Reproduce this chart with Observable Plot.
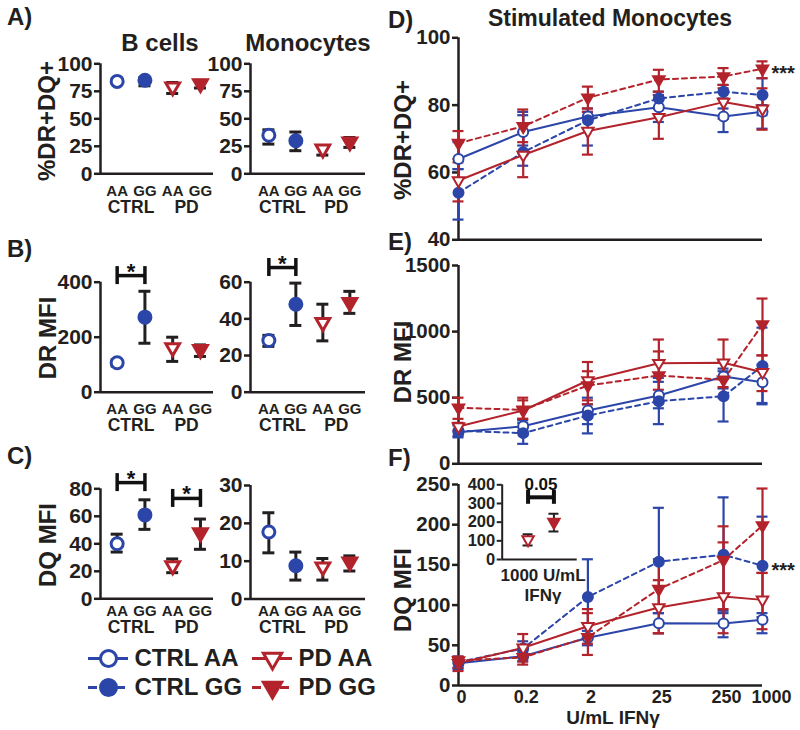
<!DOCTYPE html>
<html><head><meta charset="utf-8">
<script src="https://cdn.jsdelivr.net/npm/d3@7"></script>
<script src="https://cdn.jsdelivr.net/npm/@observablehq/plot@0.6"></script>
<style>
body{margin:0;background:#fff;}
#fig{position:relative;width:800px;height:730px;overflow:hidden;font-family:"Liberation Sans",Arial,sans-serif;font-weight:bold;color:#231f20;background:#fff;}
#fig svg{position:absolute;overflow:visible;}
.t{position:absolute;white-space:nowrap;line-height:1;}
</style></head><body><div id="fig"></div>
<script>
// ---------- data ----------
const series = ["CTRL AA", "CTRL GG", "PD AA", "PD GG"];
const seriesGroup = ["CTRL", "CTRL", "PD", "PD"];
const seriesGeno = ["AA", "GG", "AA", "GG"];

// Panel A (% DR+DQ+)
const aBcellsMean = [84, 85, 79, 82], aBcellsLo = [82, 80, 73, 78], aBcellsHi = [86, 87.5, 83, 85];
const aMonoMean = [35, 30, 22.5, 29], aMonoLo = [27, 21, 17, 24], aMonoHi = [40, 38, 25, 33];
// Panel B (DR MFI)
const bBcellsMean = [107, 273, 162, 155], bBcellsLo = [95, 178, 112, 130], bBcellsHi = [118, 367, 200, 172];
const bMonoMean = [28.2, 48, 38, 49], bMonoLo = [25, 36.4, 28, 43], bMonoHi = [31, 59.5, 48, 55];
// Panel C (DQ MFI)
const cBcellsMean = [40, 61, 24, 48], cBcellsLo = [34, 50.5, 19, 36], cBcellsHi = [47, 72, 29, 58];
const cMonoMean = [17.7, 8.8, 8.5, 9.8], cMonoLo = [12.2, 5, 5, 7.4], cMonoHi = [22.8, 12.4, 10.7, 11.4];

// significance brackets (series index from, to, bracket level, label)
const sigB_Bcells = [{from: 0, to: 1, level: 424, label: "*"}];
const sigB_Mono = [{from: 0, to: 1, level: 68, label: "*"}];
const sigC_Bcells = [{from: 0, to: 1, level: 84.5, label: "*"}, {from: 2, to: 3, level: 73, label: "*"}];

// Stimulated monocytes, IFNγ doses
const doses = [0, 0.2, 2, 25, 250, 1000];
const doseLabels = ["0", "0.2", "2", "25", "250", "1000"];
const zeroDosePosition = 0.02; // where "0" sits on the log axis

// D: %DR+DQ+  (rows: CTRL AA, CTRL GG, PD AA, PD GG)
const dMean = [[64, 72, 76.6, 79.4, 76.6, 78], [54, 66, 75.5, 82, 84, 83], [57.6, 65.2, 72.3, 76.4, 80.9, 78.9], [68.7, 73.7, 82.2, 87.6, 88.5, 90.8]];
const dLo = [[61, 68, 73, 75, 72, 73], [46, 62, 68, 79, 82, 77], [51.4, 58.6, 65.3, 70, 76, 72.7], [64, 69, 78, 84, 86, 88]];
const dHi = [[69, 77, 79, 83, 79, 80], [61, 78, 78, 84, 86, 88], [63, 72, 79, 83, 85, 85], [72.3, 78.7, 85.5, 90.5, 91, 93]];
// E: DR MFI
const eMean = [[239, 284, 403, 517, 660, 617], [250, 232, 365, 474, 511, 740], [282, 403, 630, 761, 764, 693], [424, 408, 592, 668, 635, 1054]];
const eLo = [[200, 250, 300, 420, 570, 450], [210, 151, 230, 300, 320, 460], [250, 340, 480, 560, 580, 550], [340, 340, 450, 500, 500, 820]];
const eHi = [[290, 330, 500, 620, 720, 750], [300, 310, 450, 650, 700, 1030], [310, 480, 770, 940, 940, 820], [500, 500, 700, 850, 780, 1250]];
// F: DQ MFI
const fMean = [[27.7, 36.4, 59.3, 77.5, 77, 81.7], [29, 46, 110, 154, 162.6, 149], [27.7, 46.9, 73.7, 97, 110.7, 106.5], [31, 35, 60, 120, 156, 199]];
const fLo = [[20, 30, 50, 65, 60, 65], [22, 36, 60, 90, 90, 85], [18, 30, 52, 65, 65, 70], [22, 26, 38, 65, 95, 140]];
const fHi = [[35, 42, 68, 90, 93, 90], [36, 55, 157, 221, 234, 210], [35, 64, 95, 131, 178, 140], [36, 44, 90, 157, 198, 245]];
const sigD = [{dose: 1000, y: 91, label: "***"}];
const sigF = [{dose: 1000, y: 149, label: "***"}];

// F inset: 1000 U/mL IFNγ, PD only
const insetSeries = [2, 3];
const insetMean = [107, 200], insetLo = [75, 150], insetHi = [135, 245];
const sigInset = [{from: 0, to: 1, level: 333, label: "0.05"}];

// ---------- styles ----------
const BLUE = "#2b46a8", RED = "#b3232b", INK = "#231f20";
const sColor = [BLUE, BLUE, RED, RED];
const sOpen = [true, false, true, false];
const sSymbol = ["circle", "circle", "triangle", "triangle"];
const sDash = [null, "5,4", null, "5,4"];
const FONT = "'Liberation Sans', Arial, Helvetica, sans-serif";

const fig = document.getElementById("fig");
function place(svg, left, top) {
  svg.style.left = left + "px"; svg.style.top = top + "px";
  fig.appendChild(svg);
}
function baseStyle() {
  return {background: "transparent", overflow: "visible", fontFamily: FONT, fontWeight: "bold", color: INK};
}
function label(text, x, y, size, opts = {}) {
  const d = document.createElement("div");
  d.className = "t"; d.textContent = text;
  d.style.left = x + "px"; d.style.top = y + "px"; d.style.fontSize = size + "px";
  d.style.transform = (opts.start ? "translate(0,-50%)" : "translate(-50%,-50%)") + (opts.rotate ? ` rotate(${opts.rotate}deg)` : "");
  fig.appendChild(d);
}
function dotOpts(k, r, sw) {
  const tri = sSymbol[k] === "triangle";
  return {symbol: sSymbol[k], r: tri ? r * 0.85 : r, fill: sOpen[k] ? "white" : sColor[k], stroke: sColor[k], strokeWidth: sw, rotate: tri ? 180 : 0};
}

// ---------- grouped (left) panels ----------
function groupPanel(o) {
  const rows = series.map((s, i) => ({series: s, k: i, idx: i + 1, group: seriesGroup[i], geno: seriesGeno[i], mean: o.mean[i], lo: o.lo[i], hi: o.hi[i]}));
  const groups = [...new Set(seriesGroup)].map(g => ({group: g, idx: d3.mean(rows.filter(r => r.group === g), r => r.idx)}));
  const sig = (o.sig || []).map(b => ({...b, x1: b.from + 1, x2: b.to + 1, xm: (b.from + b.to) / 2 + 1}));
  const marks = [
    Plot.ruleY([o.yDomain[0]], {stroke: INK, strokeWidth: 2.5}),
    Plot.ruleX([o.xDomain[0]], {y1: o.yDomain[0], y2: o.yDomain[1], stroke: INK, strokeWidth: 2.5}),
    Plot.axisY({ticks: o.yTicks, tickSize: 6, tickPadding: 2, strokeWidth: 2.5, color: INK, fontSize: 21, fontWeight: "bold", tickFormat: d => `${d}`}),
    Plot.ruleX(rows, {x: "idx", y1: "lo", y2: "hi", stroke: INK, strokeWidth: 3}),
    Plot.ruleY(rows, {x1: "idx", x2: "idx", y: "lo", stroke: INK, strokeWidth: 3, insetLeft: -6, insetRight: -6}),
    Plot.ruleY(rows, {x1: "idx", x2: "idx", y: "hi", stroke: INK, strokeWidth: 3, insetLeft: -6, insetRight: -6}),
    ...rows.map(r => Plot.dot([r], {x: "idx", y: "mean", ...dotOpts(r.k, 6, 3)})),
    Plot.text(rows, {x: "idx", y: o.yDomain[0], text: "geno", dy: o.genoDy, fontSize: 15, fontWeight: "bold", fill: INK}),
    Plot.text(groups, {x: "idx", y: o.yDomain[0], text: "group", dy: o.groupDy, fontSize: 17.5, fontWeight: "bold", fill: INK}),
    Plot.ruleY(sig, {x1: "x1", x2: "x2", y: "level", stroke: "#111", strokeWidth: 3.5}),
    Plot.ruleX(sig, {x: "x1", y1: "level", y2: "level", stroke: "#111", strokeWidth: 3.5, insetTop: -9, insetBottom: -9}),
    Plot.ruleX(sig, {x: "x2", y1: "level", y2: "level", stroke: "#111", strokeWidth: 3.5, insetTop: -9, insetBottom: -9}),
    Plot.text(sig, {x: "xm", y: "level", text: "label", dy: -4, fontSize: 22, fontWeight: "bold", fill: "#111"})
  ];
  const svg = Plot.plot({
    width: o.width, height: o.height,
    marginLeft: o.mL, marginRight: o.mR, marginTop: o.mT, marginBottom: o.mB,
    x: {domain: o.xDomain, axis: null},
    y: {domain: o.yDomain},
    style: baseStyle(),
    marks
  });
  place(svg, o.left, o.top);
}

const xB = [0.4, 4.47], xM = [0.32, 4.58];
// Row A
groupPanel({mean: aBcellsMean, lo: aBcellsLo, hi: aBcellsHi, yDomain: [0, 100], yTicks: [0, 25, 50, 75, 100], xDomain: xB,
  left: 50, top: 50, width: 170, height: 200, mL: 50, mR: 7, mT: 13.3, mB: 76.7, genoDy: 17, groupDy: 33.5});
groupPanel({mean: aMonoMean, lo: aMonoLo, hi: aMonoHi, yDomain: [0, 100], yTicks: [0, 25, 50, 75, 100], xDomain: xM,
  left: 200, top: 50, width: 170, height: 200, mL: 50, mR: 5, mT: 13.3, mB: 76.7, genoDy: 17, groupDy: 33.5});
// Row B
groupPanel({mean: bBcellsMean, lo: bBcellsLo, hi: bBcellsHi, yDomain: [0, 400], yTicks: [0, 200, 400], xDomain: xB, sig: sigB_Bcells,
  left: 50, top: 250, width: 170, height: 200, mL: 50, mR: 7, mT: 31.7, mB: 58.3, genoDy: 16.5, groupDy: 33.5});
groupPanel({mean: bMonoMean, lo: bMonoLo, hi: bMonoHi, yDomain: [0, 60], yTicks: [0, 20, 40, 60], xDomain: xM, sig: sigB_Mono,
  left: 200, top: 250, width: 170, height: 200, mL: 50, mR: 5, mT: 31.7, mB: 58.3, genoDy: 16.5, groupDy: 33.5});
// Row C
groupPanel({mean: cBcellsMean, lo: cBcellsLo, hi: cBcellsHi, yDomain: [0, 80], yTicks: [0, 20, 40, 60, 80], xDomain: xB, sig: sigC_Bcells,
  left: 50, top: 450, width: 170, height: 180, mL: 50, mR: 7, mT: 38.3, mB: 31.7, genoDy: 12, groupDy: 28.5});
groupPanel({mean: cMonoMean, lo: cMonoLo, hi: cMonoHi, yDomain: [0, 30], yTicks: [0, 10, 20, 30], xDomain: xM,
  left: 200, top: 450, width: 170, height: 180, mL: 50, mR: 5, mT: 35, mB: 31.5, genoDy: 12, groupDy: 28.5});

// ---------- dose-response (right) panels ----------
const doseX = d => d === 0 ? zeroDosePosition : d;
function dosePanel(o) {
  const marks = [
    Plot.ruleY([o.yDomain[0]], {stroke: INK, strokeWidth: 2.5}),
    Plot.ruleX([doseX(0)], {y1: o.yDomain[0], y2: o.yDomain[1], stroke: INK, strokeWidth: 2.5}),
    Plot.axisY({ticks: o.yTicks, tickSize: 6, tickPadding: 2, strokeWidth: 2.5, color: INK, fontSize: 20.5, fontWeight: "bold", tickFormat: d => `${d}`})
  ];
  const all = series.map((s, k) => doses.map((d, j) => ({k, x: doseX(d), mean: o.mean[k][j], lo: o.lo[k][j], hi: o.hi[k][j]})));
  all.forEach((rows, k) => {
    marks.push(Plot.line(rows, {x: "x", y: "mean", stroke: sColor[k], strokeWidth: 2, strokeDasharray: sDash[k]}));
    marks.push(Plot.ruleX(rows, {x: "x", y1: "lo", y2: "hi", stroke: sColor[k], strokeWidth: 2.2}));
    marks.push(Plot.ruleY(rows, {x1: "x", x2: "x", y: "lo", stroke: sColor[k], strokeWidth: 2.2, insetLeft: -5.5, insetRight: -5.5}));
    marks.push(Plot.ruleY(rows, {x1: "x", x2: "x", y: "hi", stroke: sColor[k], strokeWidth: 2.2, insetLeft: -5.5, insetRight: -5.5}));
  });
  all.forEach((rows, k) => marks.push(Plot.dot(rows, {x: "x", y: "mean", ...dotOpts(k, 5, 2)})));
  if (o.sig) marks.push(Plot.text(o.sig, {x: d => doseX(d.dose), y: "y", text: "label", dx: 9, dy: 5, textAnchor: "start", fontSize: 20, fontWeight: "bold", fill: INK}));
  if (o.xAxis) {
    const tickRows = doses.map((d, j) => ({x: doseX(d), label: doseLabels[j]}));
    const main = tickRows.slice(0, -1), last = tickRows.slice(-1);
    marks.push(Plot.text(main, {x: "x", y: o.yDomain[0], text: "label", dx: 3, dy: 11.5, fontSize: 18, fontWeight: "bold", fill: INK}));
    marks.push(Plot.text(last, {x: "x", y: o.yDomain[0], text: "label", dx: 9, dy: 11.5, fontSize: 18, fontWeight: "bold", fill: INK}));
  }
  const svg = Plot.plot({
    width: 400, height: o.height,
    marginLeft: 58, marginRight: 38, marginTop: o.mT, marginBottom: o.mB,
    x: {type: "log", domain: [zeroDosePosition, 1000], axis: null},
    y: {domain: o.yDomain},
    style: baseStyle(),
    marks
  });
  place(svg, 400, o.top);
}
dosePanel({mean: dMean, lo: dLo, hi: dHi, yDomain: [40, 100], yTicks: [40, 60, 80, 100], top: 0, height: 245, mT: 37.3, mB: 5.7, sig: sigD});
dosePanel({mean: eMean, lo: eLo, hi: eHi, yDomain: [0, 1500], yTicks: [0, 500, 1000, 1500], top: 245, height: 225, mT: 20, mB: 6.7});
dosePanel({mean: fMean, lo: fLo, hi: fHi, yDomain: [0, 250], yTicks: [0, 50, 100, 150, 200, 250], top: 470, height: 260, mT: 14, mB: 45, sig: sigF, xAxis: true});

// ---------- inset in F ----------
(function () {
  const rows = insetSeries.map((k, i) => ({k, idx: i + 1, mean: insetMean[i], lo: insetLo[i], hi: insetHi[i]}));
  const sig = sigInset.map(b => ({...b, x1: b.from + 1, x2: b.to + 1, xm: (b.from + b.to) / 2 + 1}));
  const svg = Plot.plot({
    width: 130, height: 130, marginLeft: 46.7, marginRight: 8.3, marginTop: 9.3, marginBottom: 46,
    x: {domain: [0, 2.9], axis: null},
    y: {domain: [0, 400]},
    style: baseStyle(),
    marks: [
      Plot.ruleY([0], {stroke: INK, strokeWidth: 2}),
      Plot.ruleX([0], {y1: 0, y2: 400, stroke: INK, strokeWidth: 2}),
      Plot.axisY({ticks: [0, 100, 200, 300, 400], tickSize: 5, tickPadding: 2, strokeWidth: 2, color: INK, fontSize: 16.5, fontWeight: "bold", tickFormat: d => `${d}`}),
      Plot.ruleX(rows, {x: "idx", y1: "lo", y2: "hi", stroke: INK, strokeWidth: 2}),
      Plot.ruleY(rows, {x1: "idx", x2: "idx", y: "lo", stroke: INK, strokeWidth: 2, insetLeft: -5, insetRight: -5}),
      Plot.ruleY(rows, {x1: "idx", x2: "idx", y: "hi", stroke: INK, strokeWidth: 2, insetLeft: -5, insetRight: -5}),
      ...rows.map(r => Plot.dot([r], {x: "idx", y: "mean", ...dotOpts(r.k, 5, 2)})),
      Plot.ruleY(sig, {x1: "x1", x2: "x2", y: "level", stroke: "#111", strokeWidth: 4}),
      Plot.ruleX(sig, {x: "x1", y1: "level", y2: "level", stroke: "#111", strokeWidth: 4, insetTop: -7, insetBottom: -7}),
      Plot.ruleX(sig, {x: "x2", y1: "level", y2: "level", stroke: "#111", strokeWidth: 4, insetTop: -7, insetBottom: -7}),
      Plot.text(sig, {x: "xm", y: "level", text: "label", dy: -13, fontSize: 17, fontWeight: "bold", fill: "#111"})
    ]
  });
  place(svg, 455, 475);
})();

// ---------- legend ----------
(function () {
  const rows = series.map((s, k) => ({k, series: s, group: seriesGroup[k], geno: seriesGeno[k]}));
  const marks = [];
  rows.forEach(r => {
    marks.push(Plot.ruleY([r], {x1: "group", x2: "group", y: "geno", stroke: sColor[r.k], strokeWidth: 3, strokeDasharray: sDash[r.k] ? "9,5" : null, insetLeft: -20, insetRight: -20}));
    marks.push(Plot.dot([r], {x: "group", y: "geno", ...dotOpts(r.k, 8, 3)}));
  });
  marks.push(Plot.text(rows, {x: "group", y: "geno", text: "series", dx: 26, textAnchor: "start", fontSize: 24, fontWeight: "bold", fill: INK}));
  const svg = Plot.plot({
    width: 330, height: 70, margin: 0,
    x: {type: "point", domain: ["CTRL", "PD"], range: [28, 192], padding: 0, axis: null},
    y: {type: "point", domain: ["AA", "GG"], range: [18, 47], padding: 0, axis: null},
    style: baseStyle(),
    marks
  });
  place(svg, 80, 640);
})();

// ---------- text ----------
label("A)", 7, 17, 24, {start: true});
label("B)", 7, 249, 24, {start: true});
label("C)", 7, 456, 24, {start: true});
label("D)", 388, 20, 24, {start: true});
label("E)", 388, 242, 24, {start: true});
label("F)", 388, 458, 24, {start: true});
label("B cells", 160, 43, 24);
label("Monocytes", 308, 43, 24);
label("Stimulated Monocytes", 610, 18, 23);
label("%DR+DQ+", 47, 121, 24, {rotate: -90});
label("DR MFI", 48, 338, 24, {rotate: -90});
label("DQ MFI", 48, 545, 24, {rotate: -90});
label("%DR+DQ+", 403, 140, 24, {rotate: -90});
label("DR MFI", 403, 362, 24, {rotate: -90});
label("DQ MFI", 403, 590, 24, {rotate: -90});
label("1000 U/mL", 543, 575, 17);
label("IFNγ", 543, 595, 17);
label("U/mL IFNγ", 613, 717, 19);
</script></body></html>
